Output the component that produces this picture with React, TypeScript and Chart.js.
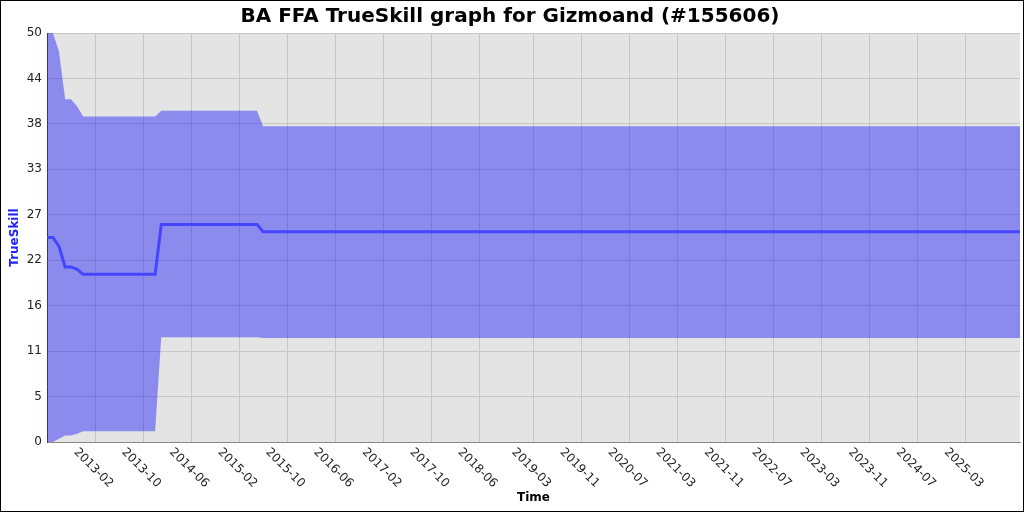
import React, { useEffect, useRef } from 'react';
import { Chart, registerables } from 'chart.js';

Chart.register(...registerables);

const TITLE = 'BA FFA TrueSkill graph for Gizmoand (#155606)';
const X_TITLE = 'Time';
const Y_TITLE = 'TrueSkill';

// Monthly points where the rating changed (first/last mark the range ends)
const MONTHS = ['2012-06', '2012-07', '2012-08', '2012-09', '2012-10', '2012-11', '2012-12', '2013-12', '2014-01', '2015-05', '2015-06', '2025-12'];
const MEAN = [25.0, 25.0, 23.9, 21.4, 21.4, 21.1, 20.5, 20.5, 26.6, 26.6, 25.7, 25.7];
const UPPER = [50.0, 50.0, 47.7, 41.9, 41.9, 41.0, 39.8, 39.8, 40.5, 40.5, 38.6, 38.6];
const LOWER = [0.0, 0.0, 0.4, 0.8, 0.8, 1.0, 1.3, 1.3, 12.8, 12.8, 12.7, 12.7];

const X_RANGE = ['2012-06', '2025-12'];
const X_TICK_LABELS = ['2013-02', '2013-10', '2014-06', '2015-02', '2015-10', '2016-06', '2017-02', '2017-10', '2018-06', '2019-03', '2019-11', '2020-07', '2021-03', '2021-11', '2022-07', '2023-03', '2023-11', '2024-07', '2025-03'];
const Y_MAX = 50;
const Y_TICK_LABELS = ['0', '5', '11', '16', '22', '27', '33', '38', '44', '50'];

const toTime = (ym: string) => {
  const [y, m] = ym.split('-').map(Number);
  return Date.UTC(y, m - 1, 1);
};

export default function App() {
  const ref = useRef<HTMLCanvasElement>(null);

  useEffect(() => {
    const canvas = ref.current;
    if (!canvas) return;
    Chart.defaults.font.family = "'DejaVu Sans', sans-serif";
    const xs = MONTHS.map(toTime);
    const pts = (arr: number[]) => arr.map((v, i) => ({ x: xs[i], y: v }));

    const decor = {
      id: 'decor',
      beforeDraw(chart: any) {
        const { ctx, chartArea: a } = chart;
        ctx.save();
        ctx.fillStyle = '#ffffff';
        ctx.fillRect(0, 0, chart.width, chart.height);
        ctx.fillStyle = '#e4e4e4';
        ctx.fillRect(a.left, a.top, a.right - a.left, a.bottom - a.top);
        ctx.restore();
      },
      afterDraw(chart: any) {
        const { ctx } = chart;
        const xScale = chart.scales.x;
        ctx.save();
        ctx.font = "12px 'DejaVu Sans', sans-serif";
        ctx.fillStyle = '#222222';
        ctx.textAlign = 'center';
        ctx.textBaseline = 'middle';
        X_TICK_LABELS.forEach((lbl) => {
          const px = xScale.getPixelForValue(toTime(lbl));
          ctx.save();
          ctx.translate(px - 2, xScale.top + 26);
          ctx.rotate(Math.PI / 4);
          ctx.fillText(lbl, 0, 0);
          ctx.restore();
        });
        ctx.strokeStyle = '#000000';
        ctx.lineWidth = 1;
        ctx.strokeRect(0.5, 0.5, chart.width - 1, chart.height - 1);
        ctx.restore();
      },
    };

    const chart = new Chart(canvas, {
      type: 'line',
      data: {
        datasets: [
          {
            label: 'Mean',
            data: pts(MEAN),
            borderColor: '#4545ff',
            borderWidth: 3,
            pointRadius: 0,
            fill: false,
            order: 0,
          },
          {
            label: 'Upper',
            data: pts(UPPER),
            borderColor: 'rgba(0,0,0,0)',
            borderWidth: 0,
            backgroundColor: 'rgba(0,0,255,0.39)',
            pointRadius: 0,
            fill: '+1',
            order: 1,
          },
          {
            label: 'Lower',
            data: pts(LOWER),
            borderColor: 'rgba(0,0,0,0)',
            borderWidth: 0,
            pointRadius: 0,
            fill: false,
            order: 1,
          },
        ],
      },
      options: {
        animation: false,
        responsive: false,
        layout: { padding: { left: 0, right: 4, top: 0, bottom: 0 } },
        plugins: {
          legend: { display: false },
          tooltip: { enabled: false },
          title: {
            display: true,
            text: TITLE,
            color: '#000000',
            font: { size: 20, weight: 'bold', lineHeight: 1.2 },
            padding: { top: 5, bottom: 4 },
          },
        },
        scales: {
          x: {
            type: 'linear',
            min: toTime(X_RANGE[0]),
            max: toTime(X_RANGE[1]),
            afterBuildTicks: (s: any) => {
              s.ticks = X_TICK_LABELS.map((l) => ({ value: toTime(l) }));
            },
            afterFit: (s: any) => {
              s.height = 70;
            },
            ticks: { display: false },
            grid: { color: '#c6c6c6', drawTicks: false },
            border: { color: '#888888', width: 1 },
            title: {
              display: true,
              text: X_TITLE,
              color: '#000000',
              font: { size: 12, weight: 'bold' },
              padding: { top: 0, bottom: 7 },
            },
          },
          y: {
            type: 'linear',
            min: 0,
            max: Y_MAX,
            afterBuildTicks: (s: any) => {
              s.ticks = Y_TICK_LABELS.map((_, i) => ({ value: (Y_MAX * i) / (Y_TICK_LABELS.length - 1) }));
            },
            afterFit: (s: any) => {
              s.width = 47;
            },
            ticks: {
              color: '#222222',
              font: { size: 12 },
              padding: 5,
              callback: (_v: any, i: number) => Y_TICK_LABELS[i],
            },
            grid: { color: '#c6c6c6', drawTicks: false },
            border: { color: '#555555', width: 1 },
            title: {
              display: true,
              text: Y_TITLE,
              color: '#2222ff',
              font: { size: 12, weight: 'bold' },
              padding: { top: 8, bottom: 0 },
            },
          },
        },
      },
      plugins: [decor],
    } as any);

    return () => chart.destroy();
  }, []);

  return (
    <div style={{ position: 'absolute', left: 0, top: 0, width: 1024, height: 512 }}>
      <canvas ref={ref} width={1024} height={512} style={{ display: 'block' }} />
    </div>
  );
}
